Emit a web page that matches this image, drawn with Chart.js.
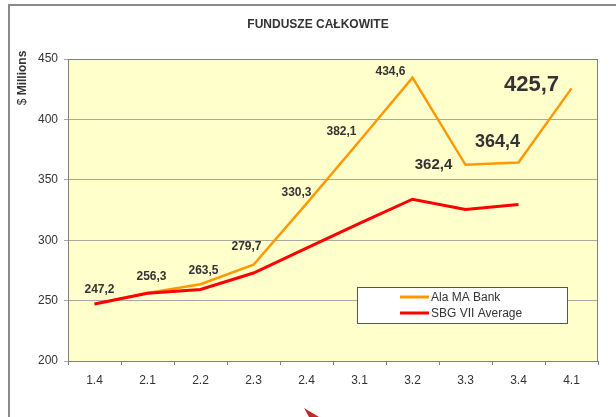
<!DOCTYPE html>
<html>
<head>
<meta charset="utf-8">
<script src="https://cdn.jsdelivr.net/npm/chart.js@4/dist/chart.umd.min.js"></script>
<style>
    html, body { margin: 0; padding: 0; background: #fff; }
    #wrap { width: 616px; height: 417px; }
</style>
</head>
<body>
<div id="wrap"><canvas id="fundsChart" width="616" height="417"></canvas></div>
<script>
const categories = ['1.4', '2.1', '2.2', '2.3', '2.4', '3.1', '3.2', '3.3', '3.4', '4.1'];
const alaBank = [247.2, 256.3, 263.5, 279.7, 330.3, 382.1, 434.6, 362.4, 364.4, 425.7];
const sbgAverage = [247.2, 256.0, 259.2, 272.8, 293.5, 314.0, 333.9, 325.4, 329.6, null];
const seriesNames = ['Ala MA Bank', 'SBG VII Average'];
const yRange = [200, 450, 50];

const FONT = "'Liberation Sans', Arial, sans-serif";

// label placement relative to each Ala MA Bank point
const labelStyle = [
    { dx: 5, dy: -14, size: 12 },
    { dx: 4, dy: -16, size: 12 },
    { dx: 3, dy: -14, size: 12 },
    { dx: -7, dy: -18, size: 12 },
    { dx: -10, dy: -11, size: 12 },
    { dx: -18, dy: -9, size: 12 },
    { dx: -22, dy: -6, size: 12 },
    { dx: -32, dy: 0, size: 15 },
    { dx: -21, dy: -20, size: 18 },
    { dx: -40, dy: -3, size: 22 }
];

const decor = {
    id: 'decor',
    beforeDraw(chart) {
        const ctx = chart.ctx;
        const a = chart.chartArea;
        ctx.save();
        ctx.fillStyle = '#ffffff';
        ctx.fillRect(0, 0, chart.width, chart.height);
        // outer frame
        ctx.strokeStyle = '#8a8a8a';
        ctx.lineWidth = 2;
        ctx.beginPath();
        ctx.moveTo(9, chart.height);
        ctx.lineTo(9, 5);
        ctx.lineTo(chart.width, 5);
        ctx.stroke();
        ctx.fillStyle = '#ffffcc';
        ctx.fillRect(a.left, a.top, a.right - a.left, a.bottom - a.top);
        // title
        ctx.fillStyle = '#333333';
        ctx.font = 'bold 12px ' + FONT;
        ctx.textAlign = 'center';
        ctx.textBaseline = 'middle';
        ctx.fillText('FUNDUSZE CAŁKOWITE', 318, 25);
        // y axis title
        ctx.translate(23, 78);
        ctx.rotate(-Math.PI / 2);
        ctx.font = '12px ' + FONT;
        const w1 = ctx.measureText('$ ').width;
        ctx.font = 'bold 12px ' + FONT;
        const w2 = ctx.measureText('Millions').width;
        ctx.textAlign = 'left';
        ctx.font = '12px ' + FONT;
        ctx.fillText('$ ', -(w1 + w2) / 2, 0);
        ctx.font = 'bold 12px ' + FONT;
        ctx.fillText('Millions', -(w1 + w2) / 2 + w1, 0);
        ctx.restore();
        // small arrow shape at the bottom
        ctx.save();
        ctx.fillStyle = '#c0282a';
        ctx.beginPath();
        ctx.moveTo(304, 408);
        ctx.lineTo(319, 417);
        ctx.lineTo(309, 417);
        ctx.closePath();
        ctx.fill();
        ctx.restore();
    },
    beforeDatasetsDraw(chart) {
        const ctx = chart.ctx;
        const a = chart.chartArea;
        ctx.save();
        ctx.strokeStyle = '#808080';
        ctx.lineWidth = 1;
        ctx.strokeRect(a.left + 0.5, a.top + 0.5, a.right - a.left - 1, a.bottom - a.top);
        ctx.restore();
    },
    afterDatasetsDraw(chart) {
        const ctx = chart.ctx;
        const meta = chart.getDatasetMeta(0);
        ctx.save();
        ctx.fillStyle = '#333333';
        ctx.textAlign = 'center';
        ctx.textBaseline = 'middle';
        meta.data.forEach((pt, i) => {
            const s = labelStyle[i];
            ctx.font = 'bold ' + s.size + 'px ' + FONT;
            ctx.fillText(alaBank[i].toFixed(1).replace('.', ','), pt.x + s.dx, pt.y + s.dy);
        });

        // legend box
        const bx = 357.5, by = 287.5, bw = 210, bh = 36;
        ctx.fillStyle = '#ffffff';
        ctx.fillRect(bx, by, bw, bh);
        ctx.strokeStyle = '#555555';
        ctx.lineWidth = 1;
        ctx.strokeRect(bx, by, bw, bh);
        chart.data.datasets.forEach((ds, i) => {
            const y = by + 9.5 + i * 16;
            ctx.strokeStyle = ds.borderColor;
            ctx.lineWidth = 3;
            ctx.beginPath();
            ctx.moveTo(400, y);
            ctx.lineTo(429, y);
            ctx.stroke();
            ctx.fillStyle = '#333333';
            ctx.font = '12px ' + FONT;
            ctx.textAlign = 'left';
            ctx.fillText(ds.label, 431, y + 0.5);
        });
        ctx.restore();
    }
};

new Chart(document.getElementById('fundsChart'), {
    type: 'line',
    data: {
        labels: categories,
        datasets: [{
            label: seriesNames[0],
            data: alaBank,
            borderColor: '#ff9900',
            borderWidth: 2.5,
            pointRadius: 0,
            order: 1
        }, {
            label: seriesNames[1],
            data: sbgAverage,
            borderColor: '#ff0000',
            borderWidth: 3,
            pointRadius: 0,
            order: 0
        }]
    },
    options: {
        responsive: false,
        animation: false,
        layout: { padding: { top: 59, right: 18, bottom: 0, left: 0 } },
        plugins: {
            legend: { display: false },
            title: { display: false },
            tooltip: { enabled: false }
        },
        scales: {
            x: {
                offset: true,
                grid: { offset: true, drawOnChartArea: false, color: '#808080', tickLength: 4 },
                border: { display: false },
                ticks: { color: '#333333', font: { family: FONT, size: 12 }, padding: 8 },
                afterFit: s => { s.height = 56; }
            },
            y: {
                min: yRange[0],
                max: yRange[1],
                ticks: { stepSize: yRange[2], color: '#333333', font: { family: FONT, size: 12 }, padding: 6 },
                grid: { color: '#a9a9a0', tickLength: 4 },
                border: { display: false },
                afterFit: s => { s.width = 68; }
            }
        }
    },
    plugins: [decor]
});
</script>
</body>
</html>
